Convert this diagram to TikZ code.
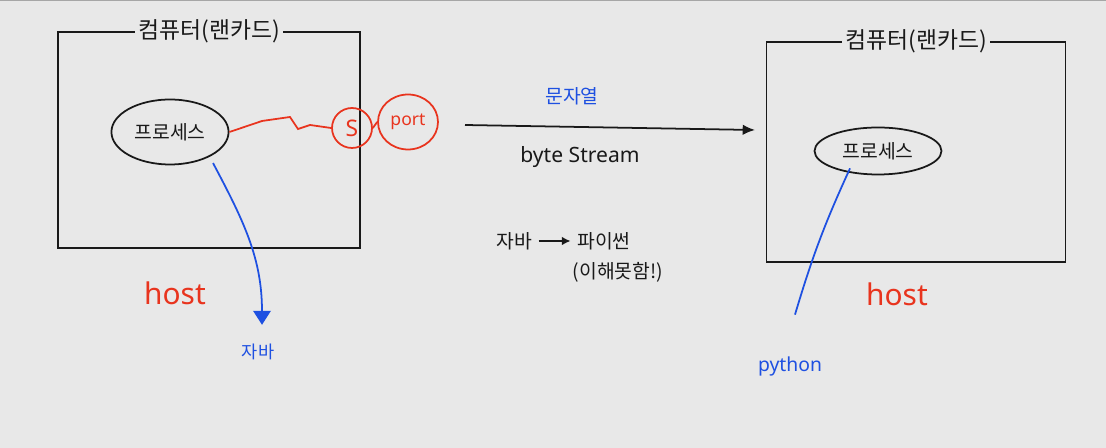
\documentclass[tikz,border=0pt]{standalone}
\usepackage{fontspec}
\setmainfont{Noto Sans}
\newfontfamily\kr{Noto Sans CJK KR}
\usetikzlibrary{shapes.geometric,arrows.meta}
\definecolor{paper}{RGB}{232,232,232}
\definecolor{pen}{RGB}{25,25,25}
\definecolor{redpen}{RGB}{232,52,30}
\definecolor{bluepen}{RGB}{30,80,225}
\begin{document}
\begin{tikzpicture}[x=0.02cm, y=-0.02cm, line width=1pt, pen,
  box/.style={draw, rectangle, minimum width=#1},
  title/.style={fill=paper, inner sep=2pt, font=\kr\fontsize{13}{15}\selectfont},
  proc/.style={draw, ellipse, font=\kr\fontsize{11}{13}\selectfont},
  hosttext/.style={text=redpen, font=\fontsize{17}{19}\selectfont}]
\useasboundingbox (0,0) rectangle (1106,448);
\fill[paper] (-10,-10) rectangle (1116,458);
\draw[gray!70, line width=1.5pt] (-10,0)--(1116,0);

\node[box=6.04cm, minimum height=4.32cm] (lbox) at (209,140) {};
\node[title] (ltitle) at (lbox.north) {컴퓨터(랜카드)};
\node[proc, minimum width=2.32cm, minimum height=1.3cm] (lproc) at (170,132) {프로세스};
\node[draw=redpen, text=redpen, circle, minimum size=0.8cm, inner sep=0pt, font=\fontsize{13}{15}\selectfont] (sock) at (352,128) {S};
\node[draw=redpen, text=redpen, ellipse, minimum width=1.2cm, minimum height=1.1cm, inner sep=0pt, font=\fontsize{10}{12}\selectfont] (port) at (408,122) {port};
\node[hosttext] (lhost) at (175,293) {host};
\node[text=bluepen, font=\kr\fontsize{10}{12}\selectfont] (jlabel) at (258,352) {자바};

\node[box=5.98cm, minimum height=4.4cm] (rbox) at (916,152) {};
\node[title] (rtitle) at (rbox.north) {컴퓨터(랜카드)};
\node[proc, minimum width=2.54cm, minimum height=0.94cm] (rproc) at (878,151) {프로세스};
\node[hosttext] (rhost) at (897,294) {host};
\node[text=bluepen, font=\fontsize{11}{13}\selectfont] (pylabel) at (790,366) {python};

\coordinate (bsA) at (465,125);
\coordinate (bsB) at (755,130);
\node[text=bluepen, font=\kr\fontsize{11}{13}\selectfont] (str) at (572,96) {문자열};
\node[font=\fontsize{12}{14}\selectfont] (bs) at (580,157) {byte Stream};
\node[font=\kr\fontsize{11}{13}\selectfont] (java) at (514,241) {자바};
\node[font=\kr\fontsize{11}{13}\selectfont] (python) at (604,241) {파이썬};
\node[font=\kr\fontsize{11}{13}\selectfont] (notok) at (618,272) {(이해못함!)};

\draw[redpen] (lproc.east)--(262,121)--(290,117)--(298,129)--(310,125)--(sock.west);
\draw[redpen] (sock.east)--(port.west);
\draw[-{Latex[length=7pt,width=6pt]}] (bsA)--(bsB);
\draw[-{Latex[length=5pt,width=5pt]}] (java.east)--(python.west);
\draw[bluepen, -{Triangle[length=8pt,width=10pt]}] ([xshift=0.02cm,yshift=-0.15cm]lproc.south east) to[out=-62,in=90] ([xshift=0.08cm,yshift=0.25cm]jlabel.north);
\draw[bluepen] ([xshift=-0.56cm,yshift=0.14cm]rproc.south) to[bend right=4] ([xshift=0.1cm,yshift=0.7cm]pylabel.north);
\end{tikzpicture}
\end{document}
